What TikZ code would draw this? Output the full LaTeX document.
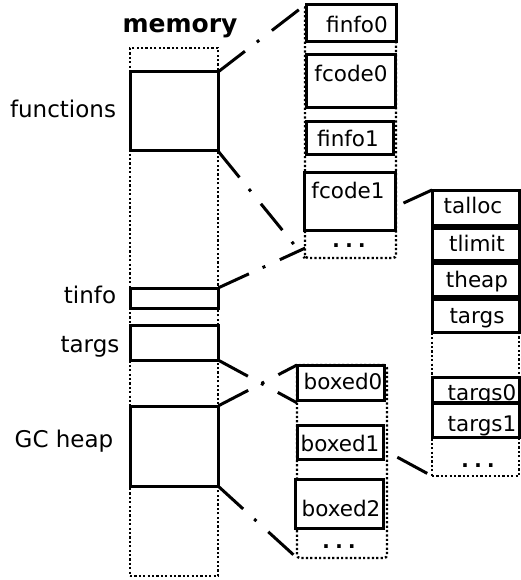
\documentclass[tikz,border=0pt]{standalone}
\usepackage{fontspec}
\setmainfont{DejaVu Sans}
\setmonofont{DejaVu Sans Mono}
\pgfdeclarelayer{bg}
\pgfsetlayers{bg,main}
\begin{document}
\begin{tikzpicture}[x=1pt,y=-1pt,
  sbox/.style={draw, line width=3pt, fill=white, inner sep=0pt, outer sep=0pt, anchor=north west},
  dcol/.style={draw, line width=2.4pt, dash pattern=on 2.2pt off 2.2pt, fill=white, inner sep=0pt, outer sep=0pt, anchor=north west},
  ddot/.style={line width=3pt, dash pattern=on 34pt off 15pt on 3pt off 16pt},
  lbl/.style={font=\fontsize{23}{27}\selectfont, anchor=base, inner sep=0pt},
  ilbl/.style={font=\fontsize{21.5}{25}\selectfont, anchor=base, inner sep=0pt},
  dots/.style={font=\fontsize{21.5}{25}\selectfont\ttfamily\bfseries, anchor=base, inner sep=0pt},
]
\useasboundingbox (0,0) rectangle (520,580);

% memory column
\node[dcol, minimum width=88pt, minimum height=528pt] (mem) at (130,48) {};
\node[sbox, minimum width=88pt, minimum height=79pt] (fn) at (130,72) {};
\node[sbox, minimum width=88pt, minimum height=20pt] (ti) at (130,288) {};
\node[sbox, minimum width=88pt, minimum height=35pt] (ta) at (130,325) {};
\node[sbox, minimum width=88pt, minimum height=80pt] (gc) at (130,406) {};

% functions column
\node[dcol, rounded corners=3pt, minimum width=91pt, minimum height=253pt] (c2) at (305,5) {};
\node[sbox, minimum width=90pt, minimum height=37pt] (fi0) at (306,5) {};
\node[sbox, minimum width=89pt, minimum height=53pt] (fc0) at (306,55) {};
\node[sbox, minimum width=87pt, minimum height=33pt] (fi1) at (306,122) {};
\node[sbox, minimum width=91pt, minimum height=58pt] (fc1) at (304,172) {};

% tinfo / targs column
\node[dcol, minimum width=87pt, minimum height=286pt] (c3) at (432,190) {};
\node[sbox, minimum width=87pt, minimum height=35pt] (tal) at (432,190) {};
\node[sbox, minimum width=87pt, minimum height=32pt] (tli) at (432,228) {};
\node[sbox, minimum width=87pt, minimum height=33pt] (the) at (432,263) {};
\node[sbox, minimum width=87pt, minimum height=33pt] (tar) at (432,299) {};
\node[sbox, minimum width=87pt, minimum height=25pt] (ta0) at (432,377) {};
\node[sbox, minimum width=87pt, minimum height=34pt] (ta1) at (432,403) {};

% GC heap column
\node[dcol, rounded corners=3pt, minimum width=90pt, minimum height=193pt] (c4) at (297,365) {};
\node[sbox, minimum width=87pt, minimum height=35pt] (bx0) at (297,365) {};
\node[sbox, minimum width=86pt, minimum height=34pt] (bx1) at (297,425) {};
\node[sbox, minimum width=88pt, minimum height=49pt] (bx2) at (295,479) {};

% connectors
\begin{pgfonlayer}{bg}
\draw[ddot] (fn.north east) -- (c2.north west);
\draw[ddot] (fn.south east) -- (c2.south west);
\draw[ddot] (ti.north east) -- (c3.north west);
\draw[ddot] (ta.south east) -- (c3.south west);
\draw[ddot] (gc.north east) -- (c4.north west);
\draw[ddot] (gc.south east) -- (c4.south west);
\end{pgfonlayer}

% labels
\node[lbl, font=\fontsize{25}{29}\selectfont\bfseries] (memt) at (180,33) {memory};
\node[lbl] (fnt) at (63,118) {functions};
\node[lbl] (tit) at (90,303) {tinfo};
\node[lbl] (tat) at (90,352) {targs};
\node[lbl] (gct) at (64,447) {GC heap};

\node[ilbl] (fi0t) at (357,33) {finfo0};
\node[ilbl] (fc0t) at (351,82) {fcode0};
\node[ilbl] (fi1t) at (348,147) {finfo1};
\node[ilbl] (fc1t) at (348,198) {fcode1};
\node[dots] (c2d) at (349,247) {...};

\node[ilbl] (talt) at (473,213) {talloc};
\node[ilbl] (tlit) at (477,251) {tlimit};
\node[ilbl] (thet) at (477,287) {theap};
\node[ilbl] (tart) at (477,323) {targs};
\node[ilbl] (ta0t) at (482,400) {targs0};
\node[ilbl] (ta1t) at (482,431) {targs1};
\node[dots] (c3d) at (478,467) {...};

\node[ilbl] (bx0t) at (343,389) {boxed0};
\node[ilbl] (bx1t) at (340,451) {boxed1};
\node[ilbl] (bx2t) at (341,516) {boxed2};
\node[dots] (c4d) at (339,548) {...};
\end{tikzpicture}
\end{document}
